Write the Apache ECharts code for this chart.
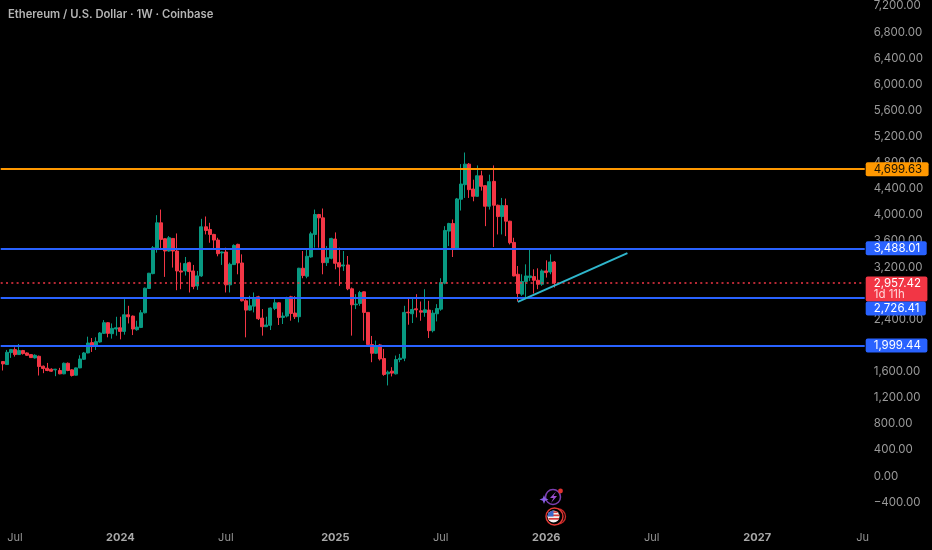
<!DOCTYPE html>
<html>
<head>
<meta charset="utf-8">
<style>html,body{margin:0;padding:0;background:#000}#c{width:932px;height:550px}</style>
<script src="https://cdn.jsdelivr.net/npm/echarts@6/dist/echarts.min.js"></script>
</head>
<body>
<div id="c"></div>
<script>
// weekly candles: [open, close, low, high]
const candles = [
[1754,1718,1617,1760],[1708,1896,1705,1932],[1891,1937,1810,1947],[1937,1861,1830,1972],[1861,1922,1855,2023],
[1922,1876,1861,1932],[1886,1850,1840,1895],[1861,1815,1810,1866],[1810,1850,1800,1866],[1835,1678,1540,1845],
[1683,1647,1576,1693],[1652,1617,1606,1733],[1637,1606,1596,1650],[1627,1637,1530,1642],[1617,1566,1560,1657],
[1566,1728,1560,1739],[1728,1617,1606,1739],[1627,1540,1525,1637],[1545,1657,1540,1662],[1657,1794,1652,1850],
[1789,1886,1779,1901],[1886,2038,1881,2135],[2044,1983,1901,2115],[1998,2059,1932,2125],[2054,2191,2044,2206],
[2186,2349,2176,2389],[2349,2186,2125,2359],[2181,2262,2105,2338],[2252,2272,2150,2440],[2272,2216,2094,2440],
[2216,2470,2166,2709],[2470,2440,2338,2608],[2450,2252,2160,2460],[2242,2282,2227,2379],[2277,2501,2267,2542],
[2501,2877,2491,2887],[2873,3107,2868,3112],[3101,3498,3091,3523],[3488,3879,3422,3996],[3879,3625,3472,4082],
[3635,3447,3051,3640],[3447,3650,3437,3676],[3640,3447,3193,3645],[3447,3142,2847,3716],[3142,3125,2862,3269],
[3142,3254,3071,3356],[3269,3132,2812,3284],[3142,2903,2862,3234],[2913,3066,2852,3142],[3066,3818,3051,3940],
[3818,3762,3701,3976],[3777,3701,3574,3879],[3701,3615,3472,3711],[3615,3406,3366,3650],[3417,3432,3234,3440],
[3432,2929,2812,3498],[2929,3244,2812,3269],[3239,3533,3234,3549],[3549,3264,3091,3559],[3264,2685,2674,3396],
[2685,2542,2125,2710],[2542,2608,2532,2761],[2603,2725,2507,2812],[2746,2410,2390,2761],[2420,2288,2151,2558],
[2288,2314,2283,2441],[2309,2573,2237,2583],[2568,2654,2542,2710],[2654,2430,2314,2660],[2430,2451,2329,2507],
[2451,2735,2430,2746],[2746,2491,2380,2761],[2497,2441,2405,2756],[2441,3183,2354,3190],[3183,3071,3030,3447],
[3061,3366,3030,3472],[3356,3711,3345,3742],[3701,4006,3498,4082],[4006,3955,3498,4016],[3955,3269,3091,4098],
[3269,3345,3218,3523],[3335,3640,3320,3650],[3630,3259,3167,3732],[3269,3203,2913,3498],[3218,3234,3142,3447],
[3234,2868,2847,3371],[2868,2624,2151,2888],[2624,2634,2558,2786],[2644,2812,2608,2837],[2822,2507,2075,2827],
[2507,2014,2009,2512],[2014,1881,1744,2146],[1881,1998,1871,2075],[2009,1795,1770,2024],[1800,1556,1536,1948],
[1566,1592,1388,1617],[1607,1577,1526,1668],[1566,1785,1556,1846],[1785,1805,1744,1871],[1805,2507,1760,2608],
[2511,2501,2318,2725],[2486,2552,2344,2725],[2562,2547,2430,2786],[2532,2511,2379,2674],[2506,2547,2440,2862],
[2542,2227,2115,2684],[2227,2496,2201,2542],[2486,2567,2369,2633],[2557,2964,2532,3030],[2954,3762,2938,3828],
[3752,3869,3523,3879],[3869,3487,3355,3930],[3487,4245,3482,4260],[4240,4473,4067,4778],[4463,4778,4260,4956],
[4778,4387,4260,4794],[4397,4285,4209,4539],[4285,4600,4280,4758],[4600,4438,4372,4677],[4448,4133,3828,4455],
[4133,4509,4082,4616],[4514,4148,3508,4758],[4148,3975,3701,4158],[3975,4143,3701,4260],[4143,3904,3675,4250],
[3904,3574,3548,3910],[3579,3065,3060,3650],[3091,2796,2674,3218],[2786,2979,2760,3091],[2979,3065,2735,3243],
[3040,3065,2989,3472],[3055,2999,2796,3167],[2999,2938,2862,3182],[2938,3142,2913,3167],[3142,3116,3040,3304],
[3126,3279,3091,3396],[3279,2957.42,2888,3294]
];
const firstWeek = '2023-06-12';
const weekCount = 213;
const tickWeeks = ['2023-07-03','2024-01-01','2024-07-01','2025-01-06','2025-07-07','2026-01-05','2026-07-06','2027-01-04','2027-07-05'];
const tickTexts = ['Jul','2024','Jul','2025','Jul','2026','Jul','2027','Ju'];
const orangeLevel = 4699.63;
const blueLevels = [3488.01, 2726.41, 1999.44];
const lastPrice = 2957.42;
const countdownText = '1d 11h';
const title = 'Ethereum / U.S. Dollar \u00b7 1W \u00b7 Coinbase';
const trendWeeks = ['2025-11-17','2026-05-25'];
const trendValues = [2669, 3416];

const GREEN='#089981', RED='#F23645', BLUE='#2962FF', ORANGE='#FF9800', CYAN='#2FB6CC';
const FONT='Inter, "Noto Sans", sans-serif';

const weeks=[];
{const d=new Date(firstWeek+'T00:00:00Z');
 for(let i=0;i<weekCount;i++){weeks.push(d.toISOString().slice(0,10));d.setUTCDate(d.getUTCDate()+7);}}
const tickMap={};tickWeeks.forEach((w,i)=>tickMap[w]=tickTexts[i]);
const fmt=v=>(v<0?'\u2212':'')+Math.abs(v).toLocaleString('en-US',{minimumFractionDigits:2,maximumFractionDigits:2});
const trendData=weeks.map(w=>{const i=trendWeeks.indexOf(w);return i>=0?trendValues[i]:null;});

function badge(value,bg,fg,offsetY){
  return {show:true,position:'end',distance:1,offset:[0,offsetY||0],formatter:fmt(value),color:fg,backgroundColor:bg,
    fontFamily:FONT,fontSize:11.5,padding:[2,6.5,1,8],borderRadius:2,lineHeight:11};
}
const hLines=[
 {yAxis:orangeLevel,lineStyle:{color:ORANGE,width:1.8,type:'solid'},label:badge(orangeLevel,ORANGE,'#1a1204')},
 {yAxis:lastPrice,lineStyle:{color:RED,width:1.6,type:[2,3.3]},
  label:{show:true,position:'end',distance:1,offset:[0,6],backgroundColor:RED,padding:[2,6.5,1,8],borderRadius:2,
   formatter:'{a|'+fmt(lastPrice)+'}\n{b|'+countdownText+'}',
   rich:{a:{color:'#fff',fontFamily:FONT,fontSize:11.5,lineHeight:11},b:{color:'#ffd6da',fontFamily:FONT,fontSize:11.5,lineHeight:11}}}},
 {yAxis:blueLevels[0],lineStyle:{color:BLUE,width:1.8,type:'solid'},label:badge(blueLevels[0],BLUE,'#fff')},
 {yAxis:blueLevels[1],lineStyle:{color:BLUE,width:1.8,type:'solid'},label:badge(blueLevels[1],BLUE,'#fff',10.5)},
 {yAxis:blueLevels[2],lineStyle:{color:BLUE,width:1.8,type:'solid'},label:badge(blueLevels[2],BLUE,'#fff')}
];

const chart=echarts.init(document.getElementById('c'),null,{renderer:'canvas'});
chart.setOption({
 animation:false,
 backgroundColor:'#000',
 title:{text:title,left:3,top:4,textStyle:{color:'#b4b4b4',fontFamily:FONT,fontSize:11.25,fontWeight:600}},
 grid:{left:0.7,right:67.3,top:3,height:525.3,containLabel:false},
 xAxis:{type:'category',data:weeks,boundaryGap:true,
  axisLine:{show:false},axisTick:{show:false},splitLine:{show:false},
  axisLabel:{margin:4,hideOverlap:false,interval:(i,v)=>v in tickMap,
   formatter:v=>{const t=tickMap[v];return /^\d/.test(t)?'{y|'+t+'}':'{m|'+t+'}';},
   rich:{y:{color:'#a8a8a8',fontFamily:FONT,fontSize:11,fontWeight:700},m:{color:'#949494',fontFamily:FONT,fontSize:11}}}},
 yAxis:{type:'value',position:'right',min:-800,max:7200,interval:400,
  axisLine:{show:false},axisTick:{show:false},splitLine:{show:false},
  axisLabel:{showMinLabel:false,align:'left',margin:9,color:'#9a9a9a',fontFamily:FONT,fontSize:11.5,formatter:fmt}},
 series:[
  {type:'candlestick',data:candles,barWidth:3.5,clip:false,
   itemStyle:{color:GREEN,color0:RED,borderColor:GREEN,borderColor0:RED,borderWidth:1},
   markLine:{silent:true,symbol:'none',animation:false,data:hLines}},
  {type:'line',data:trendData,connectNulls:true,showSymbol:false,symbol:'none',silent:true,z:5,
   lineStyle:{color:CYAN,width:2}}
 ],
 graphic:[
  {type:'circle',shape:{cx:553,cy:497,r:7.5},style:{fill:'none',stroke:'#7b3fb0',lineWidth:1.5}},
  {type:'polygon',shape:{points:[[556,491.5],[550,498],[553.5,498],[551,503],[557,496],[553.5,496]]},style:{fill:'#9b4fd0'}},
  {type:'polygon',shape:{points:[[544,495],[545.2,498.2],[548.5,499.5],[545.2,500.8],[544,504],[542.8,500.8],[539.5,499.5],[542.8,498.2]]},style:{fill:'#8a5fe8'}},
  {type:'circle',shape:{cx:560.5,cy:491,r:2.4},style:{fill:'#e0322f'}},
  {type:'circle',shape:{cx:558,cy:516.5,r:7.5},style:{fill:'#000',stroke:'#c62828',lineWidth:1.3}},
  {type:'circle',shape:{cx:554.5,cy:516.5,r:8.5},style:{fill:'#000',stroke:'#e53935',lineWidth:1.4}},
  {type:'circle',shape:{cx:553.5,cy:516.5,r:6},style:{fill:'#f4f0f0'}},
  {type:'rect',shape:{x:548,y:514.5,width:11.5,height:1.7},style:{fill:'#d63a3a'}},
  {type:'rect',shape:{x:548.5,y:518,width:10.5,height:1.7},style:{fill:'#d63a3a'}},
  {type:'rect',shape:{x:550,y:511.3,width:7.5,height:1.6},style:{fill:'#d63a3a'}},
  {type:'sector',shape:{cx:553.5,cy:516.5,r:6,r0:0,startAngle:Math.PI,endAngle:Math.PI*1.5},style:{fill:'#3a66c8'}}
 ]
});
</script>
</body>
</html>
